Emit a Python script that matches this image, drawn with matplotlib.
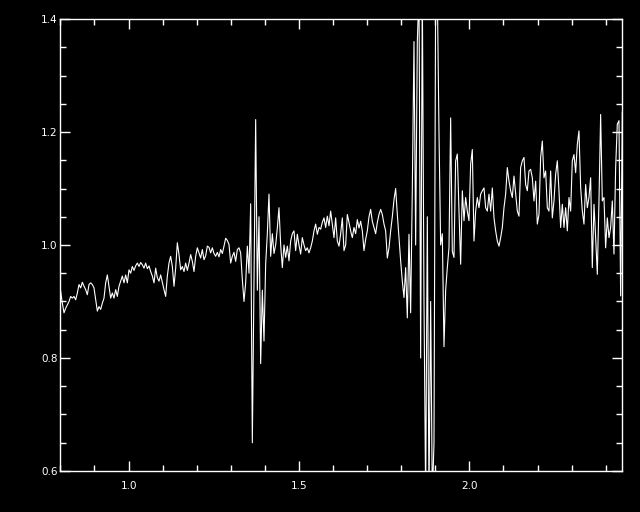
import numpy as np
import matplotlib
matplotlib.use("Agg")
import matplotlib.pyplot as plt
from matplotlib.ticker import MultipleLocator

# ---- data ----
wave_start = 0.8008      # microns, first sample
wave_step = 0.00489      # microns per sample

flux_a = [0.918, 0.897, 0.880, 0.888, 0.894, 0.900, 0.909, 0.906, 0.909, 0.903,
          0.915, 0.930, 0.924, 0.934, 0.927, 0.921, 0.912, 0.930, 0.933, 0.930,
          0.924, 0.903, 0.883, 0.891, 0.886, 0.897, 0.906, 0.933, 0.947, 0.927,
          0.906, 0.915, 0.906, 0.921, 0.909, 0.927, 0.936, 0.945, 0.933, 0.947,
          0.933, 0.956, 0.950, 0.962, 0.955, 0.963, 0.968, 0.962, 0.969, 0.965,
          0.959, 0.968, 0.958, 0.963, 0.953, 0.945, 0.933, 0.959, 0.942, 0.936,
          0.947, 0.934, 0.921, 0.909, 0.945, 0.968, 0.980, 0.962, 0.927, 0.959,
          1.004, 0.983, 0.956, 0.962, 0.953, 0.968, 0.955, 0.968, 0.983, 0.971,
          0.953, 0.980, 0.995, 0.986, 0.977, 0.992, 0.974, 0.981, 0.998, 0.996,
          0.986, 0.995, 0.985, 0.980, 0.987, 0.979, 0.992, 0.985, 0.998, 1.012,
          1.008, 1.001, 0.968, 0.980, 0.987, 0.971, 0.992, 0.995, 0.986, 0.939,
          0.900, 0.933, 0.998]

flux_b = [0.950, 1.073, 0.650, 0.930, 1.222, 0.920, 1.050, 0.790, 0.920, 0.830,
          0.966, 1.020, 1.090, 0.980, 1.020, 0.985, 1.000, 1.030, 1.066, 1.000,
          0.960, 1.000, 0.978, 0.998, 0.972, 1.007, 1.020, 1.025, 0.990, 1.019,
          1.000, 0.984, 1.013, 1.000, 0.990, 0.995, 0.986, 0.995, 1.007, 1.025,
          1.037, 1.019, 1.031, 1.028, 1.040, 1.048, 1.031, 1.051, 1.034, 1.060,
          1.037, 1.013, 1.048, 1.007, 0.998, 1.020, 1.048, 0.990, 1.000, 1.054,
          1.040, 1.025, 1.013, 1.031, 1.020, 1.045, 1.030, 1.042, 1.025, 0.990,
          1.010, 1.025, 1.050, 1.063, 1.042, 1.031, 1.020, 1.040, 1.054, 1.063,
          1.054, 1.037, 1.025, 0.977, 0.995, 1.025, 1.050, 1.080, 1.100, 1.054,
          1.013, 0.972, 0.936, 0.907, 0.960, 0.871, 1.019, 0.880, 1.100, 1.360]

flux_c = [1.000, 1.360, 1.450, 0.800, 1.450, 0.900, 0.550, 1.050, 0.550, 0.900,
          0.550, 0.650, 1.450, 1.450, 1.200, 1.000, 1.020, 0.820, 0.920, 0.960]

flux_d = [0.995, 1.225, 0.989, 0.978, 1.149, 1.161, 1.060, 0.966, 1.096, 1.043,
          1.084, 1.060, 1.043, 1.143, 1.169, 1.007, 1.060, 1.084, 1.066, 1.090,
          1.096, 1.101, 1.066, 1.060, 1.090, 1.060, 1.101, 1.048, 1.025, 1.007,
          0.998, 1.013, 1.031, 1.066, 1.090, 1.137, 1.113, 1.096, 1.084, 1.122,
          1.090, 1.060, 1.051, 1.137, 1.149, 1.155, 1.107, 1.096, 1.131, 1.134,
          1.119, 1.078, 1.113]

flux_e = [1.037, 1.054, 1.155, 1.184, 1.119, 1.131, 1.066, 1.060, 1.131, 1.048,
          1.078, 1.125, 1.149, 1.096, 1.031, 1.072, 1.031, 1.066, 1.025, 1.084,
          1.060, 1.149, 1.160, 1.128, 1.178, 1.202, 1.102, 1.060, 1.037, 1.107,
          1.066, 1.084, 1.119, 0.960, 1.072, 1.013, 0.948, 1.078, 1.231, 1.078,
          1.084, 0.995, 1.048, 1.013, 1.031, 1.078, 0.984, 1.137, 1.214, 1.220,
          0.910, 1.235]

x_ticks = [1.0, 1.5, 2.0]
x_tick_labels = ["1.0", "1.5", "2.0"]
y_ticks = [0.6, 0.8, 1.0, 1.2, 1.4]
y_tick_labels = ["0.6", "0.8", "1.0", "1.2", "1.4"]

flux = np.array(flux_a + flux_b + flux_c + flux_d + flux_e)
wave = wave_start + wave_step * np.arange(len(flux))

# ---- figure ----
fig = plt.figure(figsize=(6.4, 5.12), dpi=100, facecolor="black")
ax = fig.add_axes([60.4 / 640, 41 / 512, 562 / 640, 452 / 512])
ax.set_facecolor("black")

ax.plot(wave, flux, color="white", lw=0.8)

ax.set_xlim(0.8, 2.449)
ax.set_ylim(0.6, 1.4)

ax.set_xticks(x_ticks)
ax.set_xticklabels(x_tick_labels)
ax.set_yticks(y_ticks)
ax.set_yticklabels(y_tick_labels)
ax.xaxis.set_minor_locator(MultipleLocator(0.1))
ax.yaxis.set_minor_locator(MultipleLocator(0.05))

for s in ax.spines.values():
    s.set_color("white")
    s.set_linewidth(1.0)

ax.tick_params(which="both", direction="in", colors="white",
               top=True, right=True, width=1.0)
ax.tick_params(which="major", length=7.5, labelsize=7.5)
ax.tick_params(which="minor", length=4)
ax.tick_params(axis="x", which="major", pad=7)
ax.tick_params(axis="y", which="major", pad=2)

fig.savefig("out.png", dpi=100, facecolor="black")
